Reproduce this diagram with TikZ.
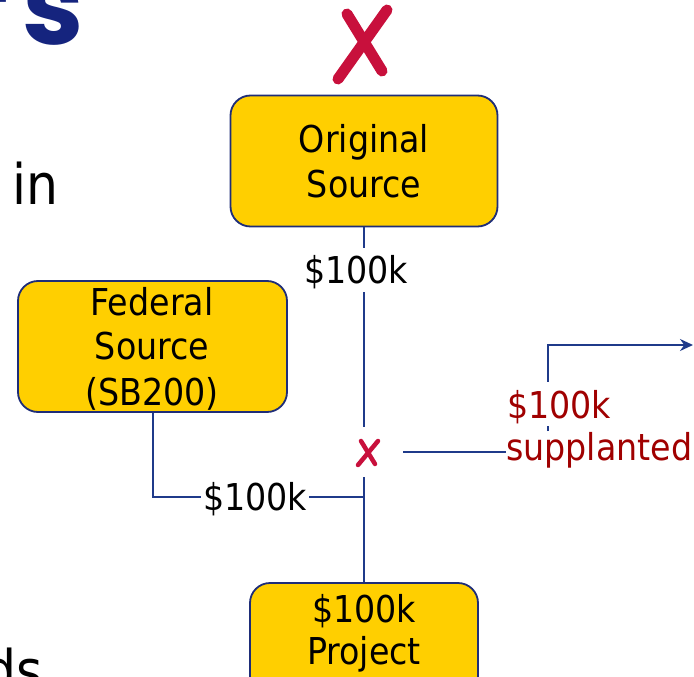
\documentclass[tikz,border=0pt]{standalone}
\usepackage{fontspec}
\setmainfont{DejaVu Sans Condensed}
\newfontfamily\titlefont{Poppins}
\usetikzlibrary{arrows.meta}
\definecolor{gold}{HTML}{FFCF00}
\definecolor{navy}{HTML}{1F3A8A}
\definecolor{boxline}{HTML}{1E2D78}
\definecolor{darkred}{HTML}{A00000}
\definecolor{crimson}{HTML}{C8103C}
\definecolor{titleblue}{HTML}{15247E}
\begin{document}
\begin{tikzpicture}[x=1pt,y=-1pt,
  srcbox/.style={draw=boxline, line width=1.8pt, fill=gold, rounded corners=20pt, inner sep=0pt},
  boxtext/.style={anchor=base, inner sep=0pt, font=\fontsize{37}{44}\selectfont},
  conn/.style={draw=navy, line width=2pt},
  amount/.style={font=\fontsize{37}{44}\selectfont, text height=26pt, text depth=0pt, inner xsep=2pt, inner ysep=9pt},
  redtext/.style={font=\fontsize{37}{44}\selectfont, text=darkred, anchor=base west, inner sep=0pt},
  cross/.style={draw=crimson, line cap=round},
  fragment/.style={inner sep=0pt, font=\fontsize{56}{66}\selectfont}
]
\useasboundingbox (0,0) rectangle (694,677);
\clip (0,0) rectangle (694,677);

% slide fragments
\node[fragment, anchor=base east, font=\titlefont\bfseries\fontsize{110}{120}\selectfont, text=titleblue] (title) at (84,45) {r\kern14pt s};
\node[fragment, anchor=base west] (frin) at (12,204) {in};
\node[fragment, anchor=base west] (frds) at (-16,690) {ds};

% boxes
\node[srcbox, minimum width=267pt, minimum height=131pt] (orig) at (364,161) {};
\node[srcbox, minimum width=269pt, minimum height=131pt] (fed) at (152.5,346.5) {};
\node[srcbox, minimum width=228pt, minimum height=140pt] (proj) at (364,653) {};

\node[boxtext] (origA) at (364,153) {Original};
\node[boxtext] (origB) at (364,197) {Source};
\node[boxtext] (fedA) at (152,315) {Federal};
\node[boxtext] (fedB) at (152,359) {Source};
\node[boxtext] (fedC) at (152,405) {(SB200)};
\node[boxtext] (projA) at (364,622) {\$100k};
\node[boxtext] (projB) at (364,664) {Project};

% labels and junctions
\node[amount] (lab1) at (356,270) {\$100k};
\node[minimum width=78pt, minimum height=50pt, inner sep=0pt] (xs) at (364,452) {};
\node[amount] (lab2) at (255,497) {\$100k};
\node[redtext] (supp) at (506,460) {supplanted};

% connectors
\draw[conn] (orig.south) -- (orig.south |- lab1.north);
\draw[conn] (orig.south |- lab1.south) -- (xs.north);
\draw[conn] (xs.south) -- (proj.north);
\draw[conn] (fed.south) |- (lab2.west);
\draw[conn] (lab2.east) -- (lab2.east -| xs.south);
\draw[conn] (xs.east) -- (xs.east -| supp.west);

\coordinate (a0) at (548,431);
\coordinate (a1) at (693,345);
\draw[conn, -{Stealth[length=13pt,width=12pt]}] (a0) |- (a1);
\node[redtext, fill=white, text height=28pt, text depth=0pt, inner xsep=0pt, inner ysep=8pt] (red1) at (507,418) {\$100k};

% crosses
\draw[cross, line width=4.5pt] (361,441) -- (375,464);
\draw[cross, line width=4.5pt] (378,441) -- (358,465);
\draw[cross, line width=11pt] (347,14) -- (382,71);
\draw[cross, line width=11pt] (387,10) -- (338,79);
\end{tikzpicture}
\end{document}
